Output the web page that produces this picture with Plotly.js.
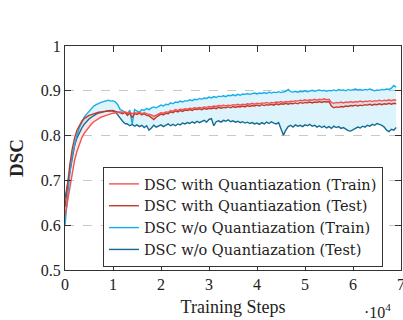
<!DOCTYPE html>
<html><head><meta charset="utf-8">
<script src="https://cdn.plot.ly/plotly-3.0.1.min.js"></script>
<style>html,body{margin:0;padding:0;background:#fff;}#chart{width:403px;height:320px;}</style>
</head><body><div id="chart"></div>
<script>
// Training steps in units of 10^4 (0 to 6.9, every 0.05)
const steps = [];
for (let i = 0; i <= 138; i++) steps.push(+(i * 0.05).toFixed(2));

const withTrain = [0.620,0.650,0.685,0.715,0.745,0.765,0.782,0.795,0.805,0.813,0.820,0.826,0.831,0.835,0.838,0.841,0.843,0.845,0.847,0.848,0.850,
0.851,0.852,0.853,0.852,0.853,0.851,0.852,0.849,0.851,0.850,0.852,0.849,0.851,0.849,0.848,0.846,0.843,0.846,0.849,
0.851,0.850,0.853,0.852,0.856,0.854,0.858,0.856,0.859,0.858,0.860,0.859,0.861,0.860,0.862,0.861,0.863,0.862,0.864,0.863,
0.865,0.864,0.866,0.865,0.867,0.866,0.868,0.866,0.868,0.867,0.869,0.868,0.870,0.868,0.870,0.869,0.871,0.870,0.872,0.870,
0.872,0.871,0.873,0.872,0.874,0.872,0.874,0.873,0.875,0.874,0.876,0.874,0.876,0.875,0.877,0.876,0.878,0.877,0.879,0.878,
0.880,0.878,0.880,0.879,0.881,0.879,0.881,0.880,0.882,0.880,0.881,0.874,0.872,0.874,0.873,0.875,0.873,0.875,0.874,0.876,
0.874,0.876,0.875,0.877,0.875,0.877,0.876,0.878,0.876,0.878,0.877,0.879,0.877,0.879,0.878,0.880,0.878,0.880,0.879];

const withTest = [0.640,0.690,0.735,0.770,0.795,0.812,0.824,0.832,0.838,0.842,0.845,0.847,0.849,0.851,0.852,0.853,0.854,0.855,0.856,0.856,0.855,
0.854,0.852,0.851,0.849,0.852,0.845,0.850,0.840,0.849,0.847,0.850,0.846,0.849,0.845,0.844,0.840,0.836,0.841,0.845,
0.848,0.846,0.850,0.849,0.853,0.851,0.855,0.853,0.856,0.854,0.857,0.856,0.858,0.856,0.859,0.858,0.860,0.858,0.861,0.859,
0.861,0.860,0.862,0.860,0.863,0.861,0.863,0.862,0.864,0.862,0.865,0.863,0.865,0.864,0.866,0.864,0.867,0.865,0.867,0.866,
0.868,0.866,0.869,0.867,0.869,0.868,0.870,0.868,0.871,0.869,0.871,0.870,0.872,0.870,0.872,0.871,0.873,0.871,0.874,0.872,
0.874,0.873,0.875,0.873,0.875,0.874,0.876,0.874,0.876,0.875,0.876,0.866,0.862,0.864,0.863,0.865,0.864,0.866,0.865,0.867,
0.866,0.868,0.866,0.868,0.867,0.869,0.868,0.870,0.868,0.870,0.869,0.871,0.869,0.871,0.870,0.872,0.870,0.872,0.871];

const woTrain = [0.600,0.660,0.715,0.755,0.782,0.802,0.818,0.831,0.841,0.848,0.854,0.860,0.866,0.869,0.872,0.874,0.876,0.877,0.879,0.877,0.878,
0.875,0.869,0.858,0.856,0.852,0.848,0.857,0.826,0.858,0.854,0.852,0.858,0.856,0.861,0.858,0.862,0.864,0.862,0.866,
0.868,0.866,0.870,0.869,0.873,0.871,0.875,0.874,0.877,0.875,0.878,0.877,0.880,0.878,0.881,0.880,0.883,0.881,0.884,0.883,
0.886,0.884,0.887,0.885,0.888,0.887,0.889,0.887,0.890,0.889,0.891,0.889,0.892,0.890,0.893,0.892,0.894,0.892,0.893,0.895,
0.893,0.895,0.894,0.896,0.894,0.897,0.895,0.897,0.896,0.898,0.896,0.897,0.899,0.903,0.898,0.897,0.899,0.897,0.899,0.898,
0.900,0.898,0.899,0.901,0.899,0.900,0.902,0.900,0.901,0.899,0.901,0.900,0.902,0.900,0.903,0.901,0.902,0.900,0.903,0.901,
0.902,0.904,0.902,0.903,0.901,0.903,0.902,0.904,0.902,0.900,0.902,0.901,0.903,0.902,0.904,0.903,0.906,0.912,0.908];

const woTest = [0.660,0.690,0.725,0.755,0.778,0.795,0.808,0.817,0.825,0.832,0.837,0.841,0.845,0.848,0.850,0.852,0.853,0.854,0.855,0.856,0.856,
0.853,0.847,0.839,0.832,0.827,0.826,0.822,0.825,0.821,0.824,0.820,0.823,0.818,0.822,0.812,0.817,0.823,0.819,0.822,
0.824,0.820,0.823,0.826,0.822,0.825,0.822,0.826,0.824,0.828,0.826,0.829,0.827,0.831,0.828,0.832,0.829,0.831,0.834,0.830,
0.836,0.838,0.822,0.831,0.833,0.830,0.834,0.832,0.835,0.831,0.833,0.830,0.832,0.829,0.831,0.828,0.830,0.827,0.829,0.826,
0.828,0.825,0.829,0.826,0.830,0.827,0.831,0.828,0.826,0.829,0.815,0.801,0.812,0.820,0.823,0.819,0.824,0.821,0.823,0.820,
0.824,0.822,0.825,0.821,0.823,0.819,0.822,0.818,0.821,0.817,0.820,0.816,0.821,0.818,0.820,0.816,0.818,0.814,0.811,0.810,
0.813,0.816,0.819,0.817,0.821,0.819,0.823,0.821,0.825,0.823,0.827,0.825,0.823,0.819,0.812,0.809,0.814,0.812,0.818];

const names = ["DSC with Quantiazation (Train)", "DSC with Quantiazation (Test)",
               "DSC w/o Quantiazation (Train)", "DSC w/o Quantiazation (Test)"];
const yTicks = [0.5, 0.6, 0.7, 0.8, 0.9, 1];
const yTickText = ["0.5", "0.6", "0.7", "0.8", "0.9", "1"];
const xTicks = [0, 1, 2, 3, 4, 5, 6, 7];

const C = {wt: "#f25252", wv: "#c03a2b", ot: "#16aee8", ov: "#156b92"};
const serif = "Liberation Serif, Times New Roman, serif";
const ink = "#222";

function band(y, fillcolor) {
  return {x: steps, y: y, mode: "lines", line: {width: 0}, showlegend: false, hoverinfo: "skip",
          fill: fillcolor ? "tonexty" : "none", fillcolor: fillcolor};
}
function line(y, name, rank, color) {
  return {x: steps, y: y, name: name, legendrank: rank, mode: "lines", line: {color: color, width: 1.4}};
}

const traces = [
  band(woTest, null),
  band(woTrain, "rgba(22,174,232,0.14)"),
  band(withTest, null),
  band(withTrain, "rgba(242,82,82,0.14)"),
  line(woTest, names[3], 4, C.ov),
  line(woTrain, names[2], 3, C.ot),
  line(withTest, names[1], 2, C.wv),
  line(withTrain, names[0], 1, C.wt)
];

const layout = {
  width: 403, height: 320,
  margin: {l: 65, r: 2, t: 46, b: 50},
  paper_bgcolor: "#fff", plot_bgcolor: "#fff",
  font: {family: serif, size: 15, color: ink},
  showlegend: true,
  legend: {x: 0.113, y: 0.46, xanchor: "left", yanchor: "top", bgcolor: "#fff",
           bordercolor: "#333", borderwidth: 1, font: {family: "DejaVu Serif, serif", size: 14.5, color: ink},
           traceorder: "normal", tracegroupgap: 0},
  xaxis: {range: [0, 7], tickvals: xTicks, ticks: "inside", ticklen: 6, tickcolor: "#333",
          showline: true, linecolor: "#333", linewidth: 1, mirror: "ticks", showgrid: false, zeroline: false,
          ticklabeloverflow: "allow",
          tickfont: {family: serif, size: 16, color: ink},
          title: {text: "Training Steps", font: {family: serif, size: 18, color: ink}, standoff: 8}},
  yaxis: {range: [0.5, 1], tickvals: yTicks, ticktext: yTickText, ticks: "inside", ticklen: 6, tickcolor: "#333",
          showline: true, linecolor: "#333", linewidth: 1, mirror: "ticks", zeroline: false,
          showgrid: true, gridcolor: "#c8c8c8", griddash: "dash", gridwidth: 1,
          tickfont: {family: serif, size: 16, color: ink},
          title: {text: "<b>DSC</b>", font: {family: serif, size: 19, color: ink}, standoff: 12}},
  annotations: [{xref: "paper", yref: "paper", x: 0.93, y: -0.185, xanchor: "center", yanchor: "middle",
                 showarrow: false, text: "·10<sup>4</sup>", font: {family: serif, size: 16, color: ink}}]
};

Plotly.newPlot("chart", traces, layout, {displayModeBar: false, staticPlot: true});
</script>
</body></html>
